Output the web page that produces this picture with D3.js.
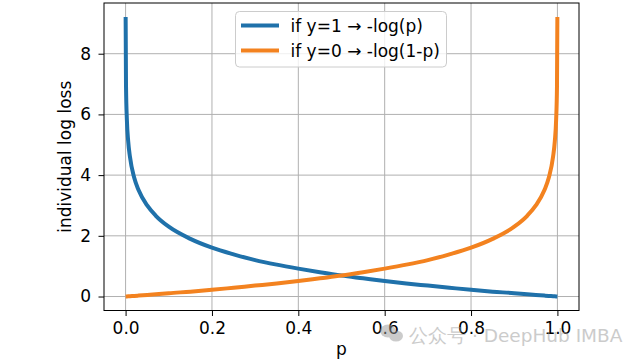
<!DOCTYPE html>
<html><head><meta charset="utf-8">
<script src="https://cdn.jsdelivr.net/npm/d3@7"></script>
<style>body{margin:0;background:#fff}svg{display:block}text{font-family:"DejaVu Sans",sans-serif}</style>
</head><body>
<svg id="c" width="640" height="362"></svg>
<script>
const pValues = [0.0001,0.001,0.003,0.006,0.01,0.02,0.03,0.05,0.07,0.1,0.15,0.2,0.25,0.3,0.35,0.4,0.45,0.5,0.55,0.6,0.65,0.7,0.75,0.8,0.85,0.9,0.93,0.95,0.97,0.98,0.99,0.994,0.997,0.999,0.9999];
const lossY1 = [9.21,6.91,5.81,5.12,4.61,3.91,3.51,3.00,2.66,2.30,1.90,1.61,1.39,1.20,1.05,0.92,0.80,0.69,0.60,0.51,0.43,0.36,0.29,0.22,0.16,0.11,0.073,0.051,0.030,0.020,0.010,0.006,0.003,0.001,0.0001];
const lossY0 = [0.0001,0.001,0.003,0.006,0.010,0.020,0.030,0.051,0.073,0.11,0.16,0.22,0.29,0.36,0.43,0.51,0.60,0.69,0.80,0.92,1.05,1.20,1.39,1.61,1.90,2.30,2.66,3.00,3.51,3.91,4.61,5.12,5.81,6.91,9.21];
const seriesNames = ["if y=1 \u2192 -log(p)", "if y=0 \u2192 -log(1-p)"];
const seriesColors = ["#1f71aa", "#f3821f"];
const xTicks = [0.0,0.2,0.4,0.6,0.8,1.0];
const yTicks = [0,2,4,6,8];

const FS = 17;
const svg = d3.select("#c");
const L=104, R=579, T=3, B=310.5;
const x = d3.scaleLinear().domain([-0.05,1.05]).range([L,R]);
const y = d3.scaleLinear().domain([-0.4605,9.6709]).range([B,T]);

// grid
const g = svg.append("g");
g.selectAll(".gx").data(xTicks).enter().append("line")
  .attr("x1",d=>x(d)).attr("x2",d=>x(d)).attr("y1",T).attr("y2",B)
  .attr("stroke","#b0b0b0").attr("stroke-width",1);
g.selectAll(".gy").data(yTicks).enter().append("line")
  .attr("y1",d=>y(d)).attr("y2",d=>y(d)).attr("x1",L).attr("x2",R)
  .attr("stroke","#b0b0b0").attr("stroke-width",1);

// lines
const line = d3.line().x(d=>x(d[0])).y(d=>y(d[1])).curve(d3.curveMonotoneX);
[lossY1, lossY0].forEach((arr,i)=>{
  svg.append("path").datum(pValues.map((p,j)=>[p,arr[j]]))
    .attr("d",line).attr("fill","none").attr("stroke",seriesColors[i])
    .attr("stroke-width",4);
});

// axes
const xa = svg.append("g").attr("transform",`translate(0,${B})`)
  .call(d3.axisBottom(x).tickValues(xTicks).tickFormat(d3.format(".1f")).tickSize(5.5).tickPadding(6));
const ya = svg.append("g").attr("transform",`translate(${L},0)`)
  .call(d3.axisLeft(y).tickValues(yTicks).tickFormat(d3.format("d")).tickSize(5.5).tickPadding(7.5));
[xa,ya].forEach(a=>{
  a.select(".domain").remove();
  a.selectAll("text").attr("font-size",FS).attr("font-family","DejaVu Sans").attr("fill","#000");
  a.selectAll("line").attr("stroke","#000");
});
svg.append("rect").attr("x",L).attr("y",T).attr("width",R-L).attr("height",B-T)
  .attr("fill","none").attr("stroke","#000").attr("stroke-width",1);

// labels
svg.append("text").attr("x",x(0.5)).attr("y",355).attr("text-anchor","middle")
  .attr("font-size",FS).text("p");
svg.append("text").attr("transform",`translate(71,${(T+B)/2}) rotate(-90)`)
  .attr("text-anchor","middle").attr("font-size",FS).text("individual log loss");

// legend
const lg = svg.append("g");
lg.append("rect").attr("x",235.5).attr("y",11.5).attr("width",211).attr("height",55.5).attr("rx",4)
  .attr("fill","#fff").attr("fill-opacity",0.8).attr("stroke","#cccccc");
seriesNames.forEach((n,i)=>{
  const yy = 25.5 + i*25;
  lg.append("line").attr("x1",241).attr("x2",279).attr("y1",yy).attr("y2",yy)
    .attr("stroke",seriesColors[i]).attr("stroke-width",4);
  lg.append("text").attr("x",290.5).attr("y",yy+6.5).attr("font-size",FS).text(n);
});

// watermark
const wm = svg.append("g").attr("opacity",0.5);
wm.append("ellipse").attr("cx",388).attr("cy",331).attr("rx",8).attr("ry",6.5).attr("fill","#999");
wm.append("ellipse").attr("cx",396).attr("cy",336).attr("rx",7).attr("ry",5.5).attr("fill","#999");
wm.append("text").attr("x",409).attr("y",342).attr("font-family","Noto Sans CJK SC").attr("font-size",18.5)
  .attr("fill","#999").text("公众号 · DeepHub IMBA");
</script>
</body></html>
